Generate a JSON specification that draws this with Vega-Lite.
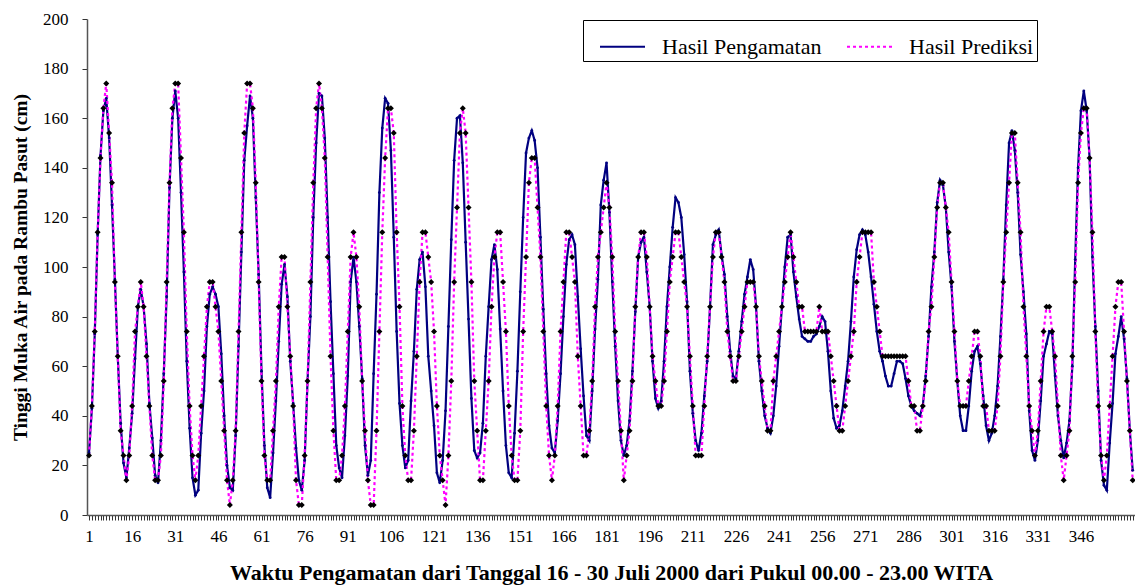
{
  "$schema": "https://vega.github.io/schema/vega-lite/v6.json",
  "autosize": {"type": "none"},
  "width": 1048,
  "height": 496,
  "padding": {"left": 87, "top": 19, "right": 0, "bottom": 73},
  "background": "white",
  "config": {
    "view": {"stroke": null},
    "font": "Liberation Serif",
    "legend": {"labelFont": "Liberation Serif", "labelFontSize": 22, "labelColor": "black"}
  },
  "data": {"values": [
{"t":1,"o":25,"p":24},{"t":2,"o":43,"p":44},{"t":3,"o":73,"p":74},{"t":4,"o":113,"p":114},{"t":5,"o":145,"p":144},{"t":6,"o":163,"p":164},{"t":7,"o":168,"p":174},{"t":8,"o":152,"p":154},{"t":9,"o":125,"p":134},{"t":10,"o":95,"p":94},
{"t":11,"o":64,"p":64},{"t":12,"o":37,"p":34},{"t":13,"o":21,"p":24},{"t":14,"o":15,"p":14},{"t":15,"o":27,"p":24},{"t":16,"o":41,"p":44},{"t":17,"o":63,"p":74},{"t":18,"o":84,"p":84},{"t":19,"o":91,"p":94},{"t":20,"o":84,"p":84},
{"t":21,"o":69,"p":64},{"t":22,"o":45,"p":44},{"t":23,"o":31,"p":24},{"t":24,"o":16,"p":14},{"t":25,"o":13,"p":14},{"t":26,"o":30,"p":24},{"t":27,"o":57,"p":54},{"t":28,"o":88,"p":94},{"t":29,"o":132,"p":134},{"t":30,"o":160,"p":164},
{"t":31,"o":171,"p":174},{"t":32,"o":160,"p":174},{"t":33,"o":130,"p":144},{"t":34,"o":98,"p":114},{"t":35,"o":62,"p":74},{"t":36,"o":35,"p":44},{"t":37,"o":15,"p":24},{"t":38,"o":8,"p":14},{"t":39,"o":10,"p":24},{"t":40,"o":33,"p":44},
{"t":41,"o":50,"p":64},{"t":42,"o":76,"p":84},{"t":43,"o":89,"p":94},{"t":44,"o":92,"p":94},{"t":45,"o":89,"p":84},{"t":46,"o":84,"p":74},{"t":47,"o":65,"p":54},{"t":48,"o":40,"p":34},{"t":49,"o":20,"p":14},{"t":50,"o":11,"p":4},
{"t":51,"o":10,"p":14},{"t":52,"o":32,"p":34},{"t":53,"o":68,"p":74},{"t":54,"o":106,"p":114},{"t":55,"o":143,"p":154},{"t":56,"o":157,"p":174},{"t":57,"o":169,"p":174},{"t":58,"o":160,"p":164},{"t":59,"o":128,"p":134},{"t":60,"o":97,"p":94},
{"t":61,"o":58,"p":54},{"t":62,"o":28,"p":24},{"t":63,"o":11,"p":14},{"t":64,"o":7,"p":14},{"t":65,"o":25,"p":34},{"t":66,"o":46,"p":54},{"t":67,"o":70,"p":84},{"t":68,"o":93,"p":104},{"t":69,"o":101,"p":104},{"t":70,"o":88,"p":84},
{"t":71,"o":62,"p":64},{"t":72,"o":45,"p":44},{"t":73,"o":27,"p":14},{"t":74,"o":14,"p":4},{"t":75,"o":10,"p":4},{"t":76,"o":22,"p":24},{"t":77,"o":54,"p":54},{"t":78,"o":80,"p":94},{"t":79,"o":120,"p":134},{"t":80,"o":150,"p":164},
{"t":81,"o":170,"p":174},{"t":82,"o":169,"p":164},{"t":83,"o":152,"p":144},{"t":84,"o":120,"p":104},{"t":85,"o":86,"p":64},{"t":86,"o":57,"p":34},{"t":87,"o":28,"p":14},{"t":88,"o":19,"p":14},{"t":89,"o":15,"p":24},{"t":90,"o":32,"p":44},
{"t":91,"o":56,"p":74},{"t":92,"o":94,"p":104},{"t":93,"o":104,"p":114},{"t":94,"o":94,"p":104},{"t":95,"o":76,"p":84},{"t":96,"o":55,"p":54},{"t":97,"o":28,"p":34},{"t":98,"o":16,"p":14},{"t":99,"o":22,"p":4},{"t":100,"o":57,"p":4},
{"t":101,"o":89,"p":34},{"t":102,"o":130,"p":74},{"t":103,"o":156,"p":114},{"t":104,"o":168,"p":144},{"t":105,"o":166,"p":164},{"t":106,"o":147,"p":164},{"t":107,"o":112,"p":154},{"t":108,"o":74,"p":114},{"t":109,"o":45,"p":84},{"t":110,"o":28,"p":44},
{"t":111,"o":19,"p":24},{"t":112,"o":22,"p":14},{"t":113,"o":46,"p":14},{"t":114,"o":66,"p":34},{"t":115,"o":91,"p":64},{"t":116,"o":103,"p":94},{"t":117,"o":106,"p":114},{"t":118,"o":92,"p":114},{"t":119,"o":64,"p":104},{"t":120,"o":50,"p":94},
{"t":121,"o":36,"p":74},{"t":122,"o":17,"p":44},{"t":123,"o":13,"p":24},{"t":124,"o":22,"p":14},{"t":125,"o":42,"p":4},{"t":126,"o":76,"p":24},{"t":127,"o":111,"p":54},{"t":128,"o":143,"p":94},{"t":129,"o":160,"p":124},{"t":130,"o":161,"p":154},
{"t":131,"o":142,"p":164},{"t":132,"o":110,"p":154},{"t":133,"o":79,"p":124},{"t":134,"o":47,"p":94},{"t":135,"o":26,"p":54},{"t":136,"o":23,"p":34},{"t":137,"o":25,"p":14},{"t":138,"o":37,"p":14},{"t":139,"o":64,"p":34},{"t":140,"o":84,"p":54},
{"t":141,"o":103,"p":84},{"t":142,"o":109,"p":104},{"t":143,"o":99,"p":114},{"t":144,"o":75,"p":114},{"t":145,"o":50,"p":94},{"t":146,"o":28,"p":74},{"t":147,"o":17,"p":44},{"t":148,"o":15,"p":24},{"t":149,"o":33,"p":14},{"t":150,"o":58,"p":14},
{"t":151,"o":90,"p":34},{"t":152,"o":120,"p":74},{"t":153,"o":146,"p":104},{"t":154,"o":152,"p":134},{"t":155,"o":155,"p":144},{"t":156,"o":151,"p":144},{"t":157,"o":140,"p":124},{"t":158,"o":112,"p":104},{"t":159,"o":83,"p":74},{"t":160,"o":57,"p":44},
{"t":161,"o":36,"p":24},{"t":162,"o":27,"p":14},{"t":163,"o":25,"p":24},{"t":164,"o":38,"p":44},{"t":165,"o":57,"p":74},{"t":166,"o":80,"p":94},{"t":167,"o":101,"p":114},{"t":168,"o":111,"p":114},{"t":169,"o":113,"p":104},{"t":170,"o":109,"p":94},
{"t":171,"o":88,"p":64},{"t":172,"o":67,"p":44},{"t":173,"o":48,"p":24},{"t":174,"o":32,"p":24},{"t":175,"o":30,"p":34},{"t":176,"o":50,"p":54},{"t":177,"o":75,"p":84},{"t":178,"o":95,"p":104},{"t":179,"o":125,"p":114},{"t":180,"o":135,"p":124},
{"t":181,"o":142,"p":134},{"t":182,"o":122,"p":124},{"t":183,"o":94,"p":104},{"t":184,"o":68,"p":74},{"t":185,"o":46,"p":54},{"t":186,"o":30,"p":34},{"t":187,"o":24,"p":14},{"t":188,"o":28,"p":24},{"t":189,"o":38,"p":34},{"t":190,"o":58,"p":54},
{"t":191,"o":82,"p":84},{"t":192,"o":104,"p":104},{"t":193,"o":110,"p":114},{"t":194,"o":112,"p":114},{"t":195,"o":98,"p":104},{"t":196,"o":84,"p":84},{"t":197,"o":62,"p":64},{"t":198,"o":47,"p":54},{"t":199,"o":43,"p":44},{"t":200,"o":46,"p":44},
{"t":201,"o":62,"p":54},{"t":202,"o":84,"p":74},{"t":203,"o":100,"p":94},{"t":204,"o":116,"p":104},{"t":205,"o":128,"p":114},{"t":206,"o":126,"p":114},{"t":207,"o":120,"p":104},{"t":208,"o":105,"p":94},{"t":209,"o":86,"p":84},{"t":210,"o":58,"p":64},
{"t":211,"o":41,"p":44},{"t":212,"o":30,"p":24},{"t":213,"o":26,"p":24},{"t":214,"o":33,"p":24},{"t":215,"o":48,"p":44},{"t":216,"o":62,"p":64},{"t":217,"o":84,"p":84},{"t":218,"o":109,"p":104},{"t":219,"o":113,"p":114},{"t":220,"o":115,"p":114},
{"t":221,"o":105,"p":104},{"t":222,"o":97,"p":94},{"t":223,"o":80,"p":74},{"t":224,"o":66,"p":64},{"t":225,"o":56,"p":54},{"t":226,"o":55,"p":54},{"t":227,"o":66,"p":64},{"t":228,"o":78,"p":74},{"t":229,"o":89,"p":84},{"t":230,"o":96,"p":94},
{"t":231,"o":103,"p":94},{"t":232,"o":99,"p":94},{"t":233,"o":84,"p":84},{"t":234,"o":62,"p":64},{"t":235,"o":50,"p":54},{"t":236,"o":40,"p":44},{"t":237,"o":35,"p":34},{"t":238,"o":33,"p":34},{"t":239,"o":40,"p":54},{"t":240,"o":52,"p":64},
{"t":241,"o":68,"p":74},{"t":242,"o":84,"p":84},{"t":243,"o":100,"p":94},{"t":244,"o":112,"p":104},{"t":245,"o":113,"p":114},{"t":246,"o":98,"p":104},{"t":247,"o":88,"p":94},{"t":248,"o":79,"p":84},{"t":249,"o":72,"p":84},{"t":250,"o":71,"p":74},
{"t":251,"o":70,"p":74},{"t":252,"o":70,"p":74},{"t":253,"o":72,"p":74},{"t":254,"o":73,"p":74},{"t":255,"o":76,"p":84},{"t":256,"o":80,"p":74},{"t":257,"o":78,"p":74},{"t":258,"o":66,"p":74},{"t":259,"o":50,"p":64},{"t":260,"o":39,"p":54},
{"t":261,"o":35,"p":44},{"t":262,"o":36,"p":34},{"t":263,"o":42,"p":34},{"t":264,"o":52,"p":44},{"t":265,"o":62,"p":54},{"t":266,"o":78,"p":64},{"t":267,"o":96,"p":74},{"t":268,"o":107,"p":94},{"t":269,"o":113,"p":104},{"t":270,"o":115,"p":114},
{"t":271,"o":113,"p":114},{"t":272,"o":106,"p":114},{"t":273,"o":96,"p":114},{"t":274,"o":85,"p":94},{"t":275,"o":74,"p":84},{"t":276,"o":66,"p":74},{"t":277,"o":62,"p":64},{"t":278,"o":56,"p":64},{"t":279,"o":52,"p":64},{"t":280,"o":52,"p":64},
{"t":281,"o":57,"p":64},{"t":282,"o":62,"p":64},{"t":283,"o":62,"p":64},{"t":284,"o":61,"p":64},{"t":285,"o":55,"p":64},{"t":286,"o":48,"p":54},{"t":287,"o":44,"p":44},{"t":288,"o":42,"p":44},{"t":289,"o":41,"p":34},{"t":290,"o":40,"p":34},
{"t":291,"o":44,"p":44},{"t":292,"o":56,"p":54},{"t":293,"o":72,"p":74},{"t":294,"o":92,"p":84},{"t":295,"o":106,"p":104},{"t":296,"o":126,"p":124},{"t":297,"o":135,"p":134},{"t":298,"o":133,"p":134},{"t":299,"o":124,"p":124},{"t":300,"o":106,"p":114},
{"t":301,"o":92,"p":94},{"t":302,"o":70,"p":74},{"t":303,"o":54,"p":54},{"t":304,"o":40,"p":44},{"t":305,"o":34,"p":44},{"t":306,"o":34,"p":44},{"t":307,"o":44,"p":54},{"t":308,"o":58,"p":64},{"t":309,"o":66,"p":74},{"t":310,"o":68,"p":74},
{"t":311,"o":61,"p":64},{"t":312,"o":48,"p":44},{"t":313,"o":36,"p":44},{"t":314,"o":30,"p":34},{"t":315,"o":33,"p":34},{"t":316,"o":40,"p":34},{"t":317,"o":52,"p":44},{"t":318,"o":72,"p":64},{"t":319,"o":95,"p":94},{"t":320,"o":125,"p":114},
{"t":321,"o":150,"p":134},{"t":322,"o":155,"p":154},{"t":323,"o":147,"p":154},{"t":324,"o":130,"p":134},{"t":325,"o":105,"p":114},{"t":326,"o":90,"p":84},{"t":327,"o":73,"p":64},{"t":328,"o":42,"p":44},{"t":329,"o":26,"p":34},{"t":330,"o":22,"p":24},
{"t":331,"o":30,"p":34},{"t":332,"o":46,"p":54},{"t":333,"o":64,"p":74},{"t":334,"o":69,"p":84},{"t":335,"o":74,"p":84},{"t":336,"o":73,"p":74},{"t":337,"o":56,"p":64},{"t":338,"o":40,"p":44},{"t":339,"o":30,"p":24},{"t":340,"o":23,"p":14},
{"t":341,"o":29,"p":24},{"t":342,"o":38,"p":34},{"t":343,"o":60,"p":64},{"t":344,"o":103,"p":94},{"t":345,"o":140,"p":134},{"t":346,"o":163,"p":154},{"t":347,"o":171,"p":164},{"t":348,"o":163,"p":164},{"t":349,"o":144,"p":144},{"t":350,"o":104,"p":114},
{"t":351,"o":76,"p":74},{"t":352,"o":50,"p":44},{"t":353,"o":22,"p":24},{"t":354,"o":12,"p":14},{"t":355,"o":10,"p":24},{"t":356,"o":29,"p":44},{"t":357,"o":45,"p":64},{"t":358,"o":65,"p":84},{"t":359,"o":72,"p":94},{"t":360,"o":80,"p":94},
{"t":361,"o":71,"p":74},{"t":362,"o":55,"p":54},{"t":363,"o":34,"p":34},{"t":364,"o":18,"p":14}
  ]},
  "transform": [{"fold": ["o", "p"], "as": ["seri", "nilai"]}],
  "encoding": {
    "x": {
      "field": "t", "type": "quantitative",
      "scale": {"domain": [0.3, 364.8], "nice": false, "zero": false},
      "axis": {
        "values": [1,2,3,4,5,6,7,8,9,10,11,12,13,14,15,16,17,18,19,20,21,22,23,24,25,26,27,28,29,30,31,32,33,34,35,36,37,38,39,40,41,42,43,44,45,46,47,48,49,50,51,52,53,54,55,56,57,58,59,60,61,62,63,64,65,66,67,68,69,70,71,72,73,74,75,76,77,78,79,80,81,82,83,84,85,86,87,88,89,90,91,92,93,94,95,96,97,98,99,100,101,102,103,104,105,106,107,108,109,110,111,112,113,114,115,116,117,118,119,120,121,122,123,124,125,126,127,128,129,130,131,132,133,134,135,136,137,138,139,140,141,142,143,144,145,146,147,148,149,150,151,152,153,154,155,156,157,158,159,160,161,162,163,164,165,166,167,168,169,170,171,172,173,174,175,176,177,178,179,180,181,182,183,184,185,186,187,188,189,190,191,192,193,194,195,196,197,198,199,200,201,202,203,204,205,206,207,208,209,210,211,212,213,214,215,216,217,218,219,220,221,222,223,224,225,226,227,228,229,230,231,232,233,234,235,236,237,238,239,240,241,242,243,244,245,246,247,248,249,250,251,252,253,254,255,256,257,258,259,260,261,262,263,264,265,266,267,268,269,270,271,272,273,274,275,276,277,278,279,280,281,282,283,284,285,286,287,288,289,290,291,292,293,294,295,296,297,298,299,300,301,302,303,304,305,306,307,308,309,310,311,312,313,314,315,316,317,318,319,320,321,322,323,324,325,326,327,328,329,330,331,332,333,334,335,336,337,338,339,340,341,342,343,344,345,346,347,348,349,350,351,352,353,354,355,356,357,358,359,360,361,362,363,364],
        "labelExpr": "(datum.value - 1) % 15 == 0 && datum.value < 350 ? datum.label : ''",
        "labelOverlap": false,
        "labelFlush": false,
        "grid": false,
        "tickSize": 5,
        "tickColor": "#333333",
        "tickWidth": 1,
        "domainColor": "#555555",
        "domainWidth": 1.5,
        "labelFont": "Liberation Serif",
        "labelFontSize": 17,
        "labelColor": "black",
        "labelPadding": 8,
        "title": "Waktu Pengamatan dari Tanggal 16 - 30 Juli 2000 dari Pukul 00.00 - 23.00 WITA",
        "titleFont": "Liberation Serif",
        "titleFontSize": 22,
        "titleFontWeight": "bold",
        "titleColor": "black",
        "titlePadding": 18
      }
    },
    "y": {
      "field": "nilai", "type": "quantitative",
      "scale": {"domain": [0, 200], "nice": false},
      "axis": {
        "values": [0,20,40,60,80,100,120,140,160,180,200],
        "grid": false,
        "tickSize": 5,
        "tickColor": "#333333",
        "domainColor": "#555555",
        "domainWidth": 1.5,
        "labelFont": "Liberation Serif",
        "labelFontSize": 17,
        "labelColor": "black",
        "labelPadding": 14,
        "title": "Tinggi Muka Air pada Rambu Pasut (cm)",
        "titleFont": "Liberation Serif",
        "titleFontSize": 19.5,
        "titleFontWeight": "bold",
        "titleColor": "black",
        "titlePadding": 12
      }
    }
  },
  "layer": [
    {
      "mark": {"type": "line", "strokeWidth": 2.2},
      "encoding": {
        "color": {
          "field": "seri", "type": "nominal",
          "scale": {"domain": ["o", "p"], "range": ["#000080", "#FF00FF"]},
          "legend": {
            "orient": "none", "legendX": 496, "legendY": 1,
            "direction": "horizontal", "title": null,
            "labelExpr": "datum.value == 'o' ? 'Hasil Pengamatan' : 'Hasil Prediksi'",
            "symbolType": "stroke", "symbolSize": 2025, "symbolStrokeWidth": 2,
            "symbolOffset": 13,
            "labelFont": "Liberation Serif", "labelFontSize": 22, "labelColor": "black",
            "strokeColor": "black", "fillColor": "white", "padding": 3,
            "columnPadding": 11, "labelOffset": 16
          }
        },
        "strokeDash": {
          "field": "seri", "type": "nominal",
          "scale": {"domain": ["o", "p"], "range": [[1, 0], [3, 3]]},
          "legend": {
            "orient": "none", "legendX": 496, "legendY": 1,
            "direction": "horizontal", "title": null,
            "labelExpr": "datum.value == 'o' ? 'Hasil Pengamatan' : 'Hasil Prediksi'",
            "symbolType": "stroke", "symbolSize": 2025, "symbolStrokeWidth": 2,
            "symbolOffset": 13,
            "labelFont": "Liberation Serif", "labelFontSize": 22, "labelColor": "black",
            "strokeColor": "black", "fillColor": "white", "padding": 3,
            "columnPadding": 11, "labelOffset": 16
          }
        }
      }
    },
    {
      "transform": [{"filter": "datum.seri == 'o'"}],
      "mark": {"type": "point", "shape": "circle", "filled": true, "color": "#000080", "size": 8, "opacity": 1}
    },
    {
      "transform": [{"filter": "datum.seri == 'p'"}],
      "mark": {"type": "point", "shape": "diamond", "filled": true, "color": "black", "size": 36, "opacity": 1}
    }
  ]
}
